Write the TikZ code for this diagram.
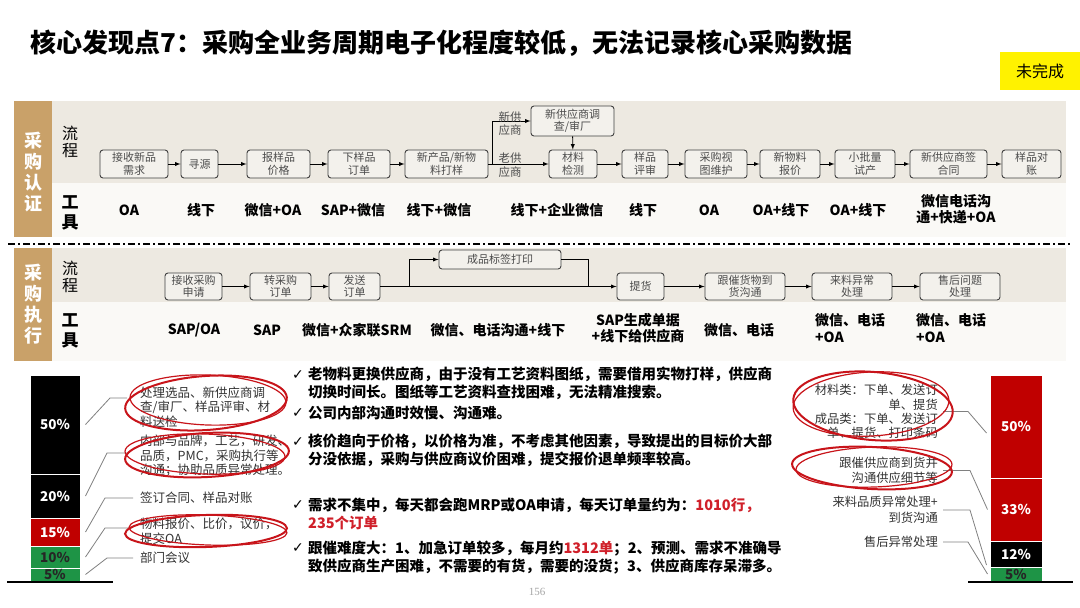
\documentclass[tikz,border=0pt]{standalone}
\usepackage{fontspec}
\setmainfont{Noto Sans CJK SC}
\newfontfamily\symfont{DejaVu Sans}
\newfontfamily\pagefont{Liberation Serif}
\usetikzlibrary{arrows}
\usetikzlibrary{positioning}

\definecolor{bandbrown}{HTML}{C9A169}
\definecolor{bandbeige}{HTML}{EDE9E1}
\definecolor{toolrow}{HTML}{FAF9F6}
\definecolor{boxfill}{HTML}{F3F1EC}
\definecolor{penred}{HTML}{C8141A}
\definecolor{barred}{HTML}{C00000}
\definecolor{bargreen}{HTML}{1E9446}
\definecolor{hired}{HTML}{D0202A}

\tikzset{
  stepbox/.style={draw=black!75, line width=0.9pt, rounded corners=3pt, fill=boxfill,
    minimum height=28pt, inner sep=1pt, align=center, text=black!70,
    font=\fontsize{11}{12.5}\selectfont},
  flow/.style={-latex, line width=0.9pt},
  tool/.style={inner sep=0pt, align=center, font=\bfseries\fontsize{14}{16.5}\selectfont},
  rowlabel/.style={inner sep=0pt, align=center, font=\fontsize{16}{17}\selectfont},
  bandlabel/.style={inner sep=0pt, align=center, text=white, font=\bfseries\fontsize{18}{21}\selectfont},
  seg/.style={draw=white, line width=1pt, inner sep=0pt, text=white,
    font=\bfseries\fontsize{13.5}{15}\selectfont},
  note/.style={inner sep=0pt, text=black!80, font=\fontsize{12.5}{14.5}\selectfont},
  leader/.style={draw=black!50, line width=0.8pt},
  redpen/.style={draw=penred, line width=2pt},
  finding/.style={inner sep=0pt, anchor=west, align=left, font=\bfseries\fontsize{14.5}{17.5}\selectfont},
  tick/.style={inner sep=0pt, font=\symfont\fontsize{14}{16}\selectfont}
}

\begin{document}
\begin{tikzpicture}[x=1pt, y=-1pt]
\useasboundingbox (0,0) rectangle (1080,608);
\fill[white] (0,0) rectangle (1080,608);

% title and status
\node[anchor=west, inner sep=0pt, font=\bfseries\fontsize{26}{30}\selectfont] (title) at (30,43)
  {核心发现点7：采购全业务周期电子化程度较低，无法记录核心采购数据};
\node[fill=yellow, minimum width=80pt, minimum height=38pt, inner sep=0pt,
  font=\fontsize{16}{18}\selectfont] (status) at (1040,71) {未完成};

% bands
\fill[bandbeige] (52,101) rectangle (1066,183);
\fill[toolrow] (52,183) rectangle (1066,237);
\fill[bandbrown] (14,101) rectangle (52,237);
\fill[bandbeige] (52,248) rectangle (1066,302);
\fill[toolrow] (52,302) rectangle (1066,361);
\fill[bandbrown] (14,248) rectangle (52,361);
\draw[line width=1.6pt, dash pattern=on 7pt off 3pt on 2pt off 3pt] (8,244) -- (1072,244);

\node[bandlabel] (auth) at (33,172) {采\\购\\认\\证};
\node[bandlabel] (exec) at (33,304) {采\\购\\执\\行};
\node[rowlabel] (flowA) at (70,142) {流\\程};
\node[rowlabel, font=\bfseries\fontsize{17}{20}\selectfont] (toolA) at (70,213) {工\\具};
\node[rowlabel] (flowB) at (70,277) {流\\程};
\node[rowlabel, font=\bfseries\fontsize{17}{20}\selectfont] (toolB) at (70,331) {工\\具};

% certification process
\foreach \n/\x/\w/\t in {a1/134/68/{接收新品\\需求}, a2/199.5/37/寻源, a3/278.5/63/{报样品\\价格},
    a4/359/62/{下样品\\订单}, a5/446.5/83/{新产品/新物\\料打样}, a6/573/48/{材料\\检测},
    a7/645/46/{样品\\评审}, a8/716/62/{采购视\\图维护}, a9/790/60/{新物料\\报价},
    a10/865/60/{小批量\\试产}, a11/948.5/77/{新供应商签\\合同}, a12/1031.5/59/{样品对\\账}}
  \node[stepbox, minimum width=\w pt] (\n) at (\x,164) {\t};
\node[stepbox, minimum width=83pt, minimum height=30pt] (n1) at (572.5,121) {新供应商调\\查/审厂};

\foreach \a/\b in {a1/a2, a2/a3, a3/a4, a4/a5, a5/a6, a6/a7, a7/a8, a8/a9, a9/a10, a10/a11, a11/a12}
  \draw[flow] (\a) -- (\b);
\draw[flow] ([xshift=4pt]a5.east) |- (n1.west);
\draw[flow] (n1) -- (a6);
\node[inner sep=0pt, align=center, text=black!70, font=\fontsize{11.5}{13.5}\selectfont] (newsup) at (510,123.5) {新供\\应商};
\node[inner sep=0pt, align=center, text=black!70, font=\fontsize{11.5}{14}\selectfont] (oldsup) at (510,165) {老供\\应商};

% certification tools
\node[tool] (t1) at (129,210) {OA};
\node[tool] (t2) at (201,210) {线下};
\node[tool] (t3) at (273,210) {微信+OA};
\node[tool] (t4) at (353,210) {SAP+微信};
\node[tool] (t5) at (439,210) {线下+微信};
\node[tool] (t6) at (557,210) {线下+企业微信};
\node[tool] (t7) at (643,210) {线下};
\node[tool] (t8) at (709,210) {OA};
\node[tool] (t9) at (781,210) {OA+线下};
\node[tool] (t10) at (858,210) {OA+线下};
\node[tool] (t11) at (956,209) {微信电话沟\\通+快递+OA};

% execution process
\foreach \n/\x/\w/\t in {b1/193.5/57/{接收采购\\申请}, b2/280.5/61/{转采购\\订单}, b3/354.5/51/{发送\\订单},
    b4/640.5/47/提货, b5/745/80/{跟催货物到\\货沟通}, b6/852/80/{来料异常\\处理}, b7/960/80/{售后问题\\处理}}
  \node[stepbox, minimum width=\w pt, minimum height=27pt] (\n) at (\x,286.5) {\t};
\node[stepbox, minimum width=122pt, minimum height=19pt] (c1) at (500,259.5) {成品标签打印};

\foreach \a/\b in {b1/b2, b2/b3, b3/b4, b4/b5, b5/b6, b6/b7}
  \draw[flow] (\a) -- (\b);
\draw[flow] ([xshift=29pt]b3.east) |- (c1.west);
\draw[line width=0.9pt] (c1.east) -| ([xshift=-28pt]b4.west);

% execution tools
\node[tool] (u1) at (194,330) {SAP/OA};
\node[tool] (u2) at (267,330) {SAP};
\node[tool] (u3) at (357,330) {微信+众家联SRM};
\node[tool] (u4) at (498,330) {微信、电话沟通+线下};
\node[tool] (u5) at (638,328) {SAP生成单据\\+线下给供应商};
\node[tool] (u6) at (739,330) {微信、电话};
\node[tool, anchor=west, align=left] (u7) at (815,328) {微信、电话\\+OA};
\node[tool, anchor=west, align=left] (u8) at (916,328) {微信、电话\\+OA};

% left bar
\node[seg, fill=black, minimum width=50pt, minimum height=99pt] (p1) at (55,424.5) {50\%};
\node[seg, fill=black, minimum width=50pt, minimum height=44pt] (p2) at (55,496) {20\%};
\node[seg, fill=barred, minimum width=50pt, minimum height=28pt] (p3) at (55,532) {15\%};
\node[seg, fill=bargreen, minimum width=50pt, minimum height=22pt, text=black!85] (p4) at (55,557) {10\%};
\node[seg, fill=bargreen, minimum width=50pt, minimum height=13pt, text=black!85] (p5) at (55,574.5) {5\%};
\draw[line width=2pt] (7,582) -- (113,582);

\node[note, anchor=west, align=left] (l1) at (140,407) {处理选品、新供应商调\\查/审厂、样品评审、材\\料送检};
\node[note, anchor=west, align=left] (l2) at (140,456) {内部与品牌，工艺，研发、\\品质，PMC，采购执行等\\沟通；协助品质异常处理。};
\node[note, anchor=west, align=left] (l3) at (140,498) {签订合同、样品对账};
\node[note, anchor=west, align=left] (l4) at (140,531) {物料报价、比价，议价，\\提交OA};
\node[note, anchor=west, align=left] (l5) at (140,558) {部门会议};

\draw[leader] ([xshift=5pt]p1.east) -- ([xshift=-30pt,yshift=9pt]l1.west) -- ([xshift=-13pt,yshift=9pt]l1.west);
\draw[leader] ([xshift=5pt]p2.east) -- ([xshift=-33pt,yshift=3pt]l2.west) -- ([xshift=-13pt,yshift=3pt]l2.west);
\draw[leader] ([xshift=5pt]p3.east) -- ([xshift=-35pt]l3.west) -- ([xshift=-7pt]l3.west);
\draw[leader] ([xshift=5pt]p4.east) -- ([xshift=-35pt,yshift=3pt]l4.west) -- ([xshift=-8pt,yshift=3pt]l4.west);
\draw[leader] ([xshift=5pt]p5.east) -- ([xshift=-33pt]l5.west) -- ([xshift=-7pt]l5.west);

% right bar
\node[seg, fill=barred, minimum width=52pt, minimum height=103pt] (q1) at (1016,426.5) {50\%};
\node[seg, fill=barred, minimum width=52pt, minimum height=63pt] (q2) at (1016,509.5) {33\%};
\node[seg, fill=black, minimum width=52pt, minimum height=26pt] (q3) at (1016,554) {12\%};
\node[seg, fill=bargreen, minimum width=52pt, minimum height=14pt, text=black!85] (q4) at (1016,574) {5\%};
\draw[line width=2pt] (968,582) -- (1073,582);

\node[note, anchor=east, align=right, font=\fontsize{12.3}{14.3}\selectfont] (r1) at (938,411.5)
  {材料类：下单、发送订\\单、提货\\成品类：下单、发送订\\单、提货、打印条码};
\node[note, anchor=east, align=right, font=\fontsize{12.3}{15}\selectfont] (r2) at (938,470.5) {跟催供应商到货并\\沟通供应细节等};
\node[note, anchor=east, align=right, font=\fontsize{12.3}{15.5}\selectfont] (r3) at (938,510) {来料品质异常处理+\\到货沟通};
\node[note, anchor=east, align=right, font=\fontsize{12.3}{15}\selectfont] (r4) at (938,542) {售后异常处理};

\draw[leader] ([xshift=5pt]r1.east) -- ++(25,0) -- ([xshift=-3pt,yshift=-6.5pt]q1.west);
\draw[leader] ([xshift=5pt]r2.east) -- ++(27,0) -- ([xshift=-2pt]q2.west);
\draw[leader] ([xshift=5pt]r3.east) -- ++(27,0) -- ([xshift=-3pt,yshift=-11pt]q3.west);
\draw[leader] ([xshift=5pt]r4.east) -- ++(25,0) -- ([xshift=-2pt]q4.west);

% red pen marks
\draw[redpen] (206,403) ellipse [x radius=81, y radius=27, rotate=4];
\draw[redpen, line width=1.2pt] (208,400) ellipse [x radius=78, y radius=25, rotate=-2];
\draw[redpen] (207,455) ellipse [x radius=82, y radius=22, rotate=3];
\draw[redpen, line width=1.2pt] (205,454) ellipse [x radius=80, y radius=20, rotate=-2];
\draw[redpen] (206,531) ellipse [x radius=81, y radius=16, rotate=2];
\draw[redpen, line width=1.2pt] (208,530) ellipse [x radius=79, y radius=15, rotate=-2];
\draw[redpen] (873,406) ellipse [x radius=80, y radius=34, rotate=-5];
\draw[redpen, line width=1.2pt] (871,404) ellipse [x radius=78, y radius=32, rotate=3];
\draw[redpen] (872,468) ellipse [x radius=80, y radius=21, rotate=-3];
\draw[redpen, line width=1.2pt] (874,467) ellipse [x radius=78, y radius=20, rotate=2];

% findings
\node[tick] (k1) at (298,375) {✓};
\node[finding] (f1) at (308,383.5) {老物料更换供应商，由于没有工艺资料图纸，需要借用实物打样，供应商\\切换时间长。图纸等工艺资料查找困难，无法精准搜索。};
\node[tick] (k2) at (298,413) {✓};
\node[finding] (f2) at (308,413) {公司内部沟通时效慢、沟通难。};
\node[tick] (k3) at (298,442) {✓};
\node[finding] (f3) at (308,450.5) {核价趋向于价格，以价格为准，不考虑其他因素，导致提出的目标价大部\\分没依据，采购与供应商议价困难，提交报价退单频率较高。};
\node[tick] (k4) at (298,505) {✓};
\node[finding] (f4) at (308,514) {需求不集中，每天都会跑MRP或OA申请，每天订单量约为：\textcolor{hired}{1010行，}\\\textcolor{hired}{235个订单}};
\node[tick] (k5) at (298,548) {✓};
\node[finding] (f5) at (308,557.5) {跟催难度大：1、加急订单较多，每月约\textcolor{hired}{1312单}；2、预测、需求不准确导\\致供应商生产困难，不需要的有货，需要的没货；3、供应商库存呆滞多。};

\node[inner sep=0pt, text=black!35, font=\pagefont\fontsize{11}{12}\selectfont] (pageno) at (537,592) {156};
\end{tikzpicture}
\end{document}
